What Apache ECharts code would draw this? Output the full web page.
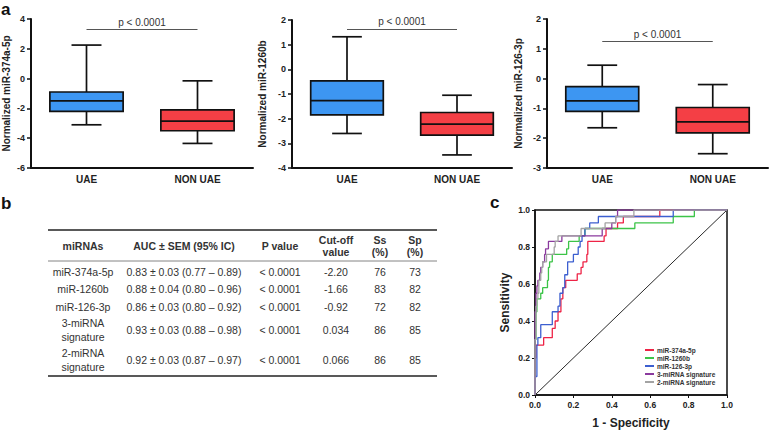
<!DOCTYPE html>
<html>
<head>
<meta charset="utf-8">
<script src="https://cdn.jsdelivr.net/npm/echarts@6/dist/echarts.min.js"></script>
<style>
  html, body { margin: 0; padding: 0; background: #fff; }
  #main { width: 770px; height: 430px; }
</style>
</head>
<body>
<div id="main"></div>
<script>
// ---- 数据 ----
const groups = ['UAE', 'NON UAE'];
// [min, Q1, median, Q3, max]
const box374 = [[-3.1, -2.2, -1.5, -0.9, 2.25], [-4.35, -3.5, -2.85, -2.1, -0.15]];
const box1260 = [[-2.6, -1.85, -1.27, -0.47, 1.32], [-3.47, -2.67, -2.22, -1.75, -1.05]];
const box126 = [[-1.65, -1.1, -0.75, -0.27, 0.45], [-2.52, -1.82, -1.45, -0.97, -0.2]];
const boxNames = ['Normalized miR-374a-5p', 'Normalized miR-1260b', 'Normalized miR-126-3p'];
const yMin = [-6, -4, -3];
const yMax = [4, 2, 2];
const yStep = [2, 1, 1];
const pText = 'p < 0.0001';
const pLevel = [3.3, 1.64, 1.26];

const tableHead = ['miRNAs', 'AUC ± SEM (95% IC)', 'P value', 'Cut-off\nvalue', 'Ss\n(%)', 'Sp\n(%)'];
const tableRows = [
  ['miR-374a-5p', '0.83 ± 0.03 (0.77 – 0.89)', '< 0.0001', '-2.20', '76', '73'],
  ['miR-1260b', '0.88 ± 0.04 (0.80 – 0.96)', '< 0.0001', '-1.66', '83', '82'],
  ['miR-126-3p', '0.86 ± 0.03 (0.80 – 0.92)', '< 0.0001', '-0.92', '72', '82'],
  ['3-miRNA\nsignature', '0.93 ± 0.03 (0.88 – 0.98)', '< 0.0001', '0.034', '86', '85'],
  ['2-miRNA\nsignature', '0.92 ± 0.03 (0.87 – 0.97)', '< 0.0001', '0.066', '86', '85']
];

// ROC: [1 - specificity, sensitivity]，每个点是台阶上升的位置
const rocNames = ['miR-374a-5p', 'miR-1260b', 'miR-126-3p', '3-miRNA signature', '2-miRNA signature'];
const roc374 = [[0, 0], [0, 0.2], [0.005, 0.27], [0.045, 0.31], [0.09, 0.36], [0.105, 0.4], [0.12, 0.45],
  [0.135, 0.52], [0.145, 0.58], [0.16, 0.62], [0.22, 0.655], [0.24, 0.69], [0.25, 0.72], [0.27, 0.76],
  [0.275, 0.83], [0.36, 0.86], [0.37, 0.9], [0.43, 0.93], [0.46, 0.965], [0.65, 1], [1, 1]];
const roc1260 = [[0, 0], [0, 0.3], [0.005, 0.45], [0.01, 0.52], [0.03, 0.55], [0.04, 0.58], [0.065, 0.62],
  [0.07, 0.69], [0.076, 0.72], [0.09, 0.76], [0.165, 0.79], [0.175, 0.83], [0.23, 0.86], [0.26, 0.9],
  [0.52, 0.93], [0.72, 0.965], [0.83, 1], [1, 1]];
const roc126 = [[0, 0], [0, 0.1], [0.01, 0.27], [0.015, 0.31], [0.03, 0.38], [0.09, 0.45], [0.12, 0.48],
  [0.13, 0.55], [0.145, 0.58], [0.155, 0.65], [0.17, 0.72], [0.2, 0.76], [0.225, 0.8], [0.235, 0.83],
  [0.245, 0.86], [0.26, 0.9], [0.285, 0.93], [0.33, 0.965], [0.72, 1], [1, 1]];
const roc3 = [[0, 0], [0, 0.45], [0.005, 0.55], [0.01, 0.59], [0.015, 0.62], [0.025, 0.66], [0.03, 0.69],
  [0.04, 0.72], [0.05, 0.76], [0.055, 0.79], [0.07, 0.83], [0.14, 0.86], [0.35, 0.9], [0.4, 0.93],
  [0.42, 0.965], [0.43, 1], [1, 1]];
const roc2 = [[0, 0], [0, 0.3], [0.005, 0.48], [0.01, 0.52], [0.015, 0.55], [0.02, 0.62], [0.03, 0.66],
  [0.035, 0.69], [0.04, 0.72], [0.06, 0.76], [0.1, 0.8], [0.105, 0.83], [0.12, 0.86], [0.24, 0.9],
  [0.365, 0.93], [0.42, 0.965], [0.515, 1], [1, 1]];
const rocData = [roc374, roc1260, roc126, roc3, roc2];

// ---- 样式 ----
const font = "'Liberation Sans', Arial, sans-serif";
const boxColors = ['#3d96f2', '#f43f45'];
const rocColors = ['#ee2346', '#3cc448', '#3c5fd0', '#8b3a9e', '#a3a3a3'];
const boxGrids = [
  { left: 28, top: 19, width: 225, height: 149 },
  { left: 292, top: 20, width: 220, height: 148 },
  { left: 547, top: 19, width: 221, height: 149 }
];
const nameGaps = [20, 25, 24];

const mychart = echarts.init(document.getElementById('main'), null, { renderer: 'svg' });

// 箱线图（自定义，须短）
function renderBox(params, api) {
  const idx = api.value(0);
  const lo = api.coord([idx, api.value(1)]);
  const q1 = api.coord([idx, api.value(2)]);
  const med = api.coord([idx, api.value(3)]);
  const q3 = api.coord([idx, api.value(4)]);
  const hi = api.coord([idx, api.value(5)]);
  const band = api.size([1, 0])[0];
  const w = band * 0.66, cap = band * 0.27;
  const x = lo[0];
  const st = { stroke: '#111', lineWidth: 1.7 };
  return {
    type: 'group',
    children: [
      { type: 'line', shape: { x1: x, y1: hi[1], x2: x, y2: q3[1] }, style: st },
      { type: 'line', shape: { x1: x, y1: q1[1], x2: x, y2: lo[1] }, style: st },
      { type: 'line', shape: { x1: x - cap / 2, y1: hi[1], x2: x + cap / 2, y2: hi[1] }, style: st },
      { type: 'line', shape: { x1: x - cap / 2, y1: lo[1], x2: x + cap / 2, y2: lo[1] }, style: st },
      { type: 'rect', shape: { x: x - w / 2, y: q3[1], width: w, height: q1[1] - q3[1] },
        style: { fill: boxColors[params.dataIndex], stroke: '#111', lineWidth: 1.7 } },
      { type: 'line', shape: { x1: x - w / 2, y1: med[1], x2: x + w / 2, y2: med[1] }, style: st }
    ]
  };
}

const grids = boxGrids.concat([{ left: 535, top: 210, width: 192, height: 191, show: true, borderColor: '#111', borderWidth: 1.5 }]);
const xAxes = [], yAxes = [], series = [];

[box374, box1260, box126].forEach((boxes, i) => {
  xAxes.push({
    type: 'category', gridIndex: i, data: groups,
    axisLine: { onZero: false, lineStyle: { color: '#111', width: 2 } },
    axisTick: { show: false },
    axisLabel: { color: '#222', fontSize: 10, fontWeight: 'bold', margin: 6 }
  });
  yAxes.push({
    type: 'value', gridIndex: i, min: yMin[i], max: yMax[i], interval: yStep[i],
    name: boxNames[i], nameLocation: 'middle', nameGap: nameGaps[i],
    nameTextStyle: { color: '#222', fontSize: 10, fontWeight: 'bold' },
    axisLine: { show: true, lineStyle: { color: '#111', width: 2 } },
    axisTick: { show: true, length: 4, lineStyle: { width: 1.5 } },
    axisLabel: { color: '#222', fontSize: 9, fontWeight: 'bold', margin: 6 },
    splitLine: { show: false }
  });
  series.push({
    type: 'custom', xAxisIndex: i, yAxisIndex: i,
    renderItem: renderBox,
    encode: { x: 0, y: [1, 2, 3, 4, 5] },
    data: boxes.map((d, k) => [k].concat(d))
  });
  // p 值线
  series.push({
    type: 'line', xAxisIndex: i, yAxisIndex: i, data: [],
    markLine: {
      silent: true, symbol: ['none', 'none'],
      lineStyle: { color: '#555', width: 1, type: 'solid' },
      label: { show: true, position: 'middle', formatter: pText, fontSize: 10, color: '#333', distance: 2 },
      data: [[{ coord: [groups[0], pLevel[i]] }, { coord: [groups[1], pLevel[i]] }]]
    }
  });
});

// ROC
xAxes.push({
  type: 'value', gridIndex: 3, min: 0, max: 1, interval: 0.2,
  name: '1 - Specificity', nameLocation: 'middle', nameGap: 22,
  nameTextStyle: { color: '#222', fontSize: 12, fontWeight: 'bold' },
  axisLine: { onZero: false, lineStyle: { color: '#111', width: 1.5 } },
  axisTick: { length: 3 },
  axisLabel: { color: '#222', fontSize: 8.5, fontWeight: 'bold', margin: 5, formatter: v => v.toFixed(1) },
  splitLine: { show: false }
});
yAxes.push({
  type: 'value', gridIndex: 3, min: 0, max: 1, interval: 0.2,
  name: 'Sensitivity', nameLocation: 'middle', nameGap: 24,
  nameTextStyle: { color: '#222', fontSize: 12, fontWeight: 'bold' },
  axisLine: { show: true, onZero: false, lineStyle: { color: '#111', width: 1.5 } },
  axisTick: { show: true, length: 3 },
  axisLabel: { color: '#222', fontSize: 8.5, fontWeight: 'bold', margin: 5, formatter: v => v.toFixed(1) },
  splitLine: { show: false }
});
series.push({
  type: 'line', xAxisIndex: 3, yAxisIndex: 3, silent: true, symbol: 'none',
  lineStyle: { color: '#111', width: 0.9 }, data: [[0, 0], [1, 1]]
});
rocData.forEach((d, i) => {
  series.push({
    name: rocNames[i], type: 'line', xAxisIndex: 3, yAxisIndex: 3,
    step: 'end', symbol: 'none', color: rocColors[i],
    lineStyle: { width: 1.3 }, data: d
  });
});

// 表格 (b)
const colX = [83, 184, 280, 336, 380, 415];
const rowY = [272, 289, 307, 330, 360];
const graphics = [];
const txt = (x, y, text, size, bold, lh) => ({
  type: 'text', x: x, y: y,
  style: { text: text, fontSize: size, fontWeight: bold ? 'bold' : 'normal', fontFamily: font,
    fill: '#333', align: 'center', verticalAlign: 'middle', lineHeight: lh }
});
tableHead.forEach((h, c) => graphics.push(txt(colX[c], 246, h, 10.5, true, 12)));
tableRows.forEach((row, r) => row.forEach((v, c) => graphics.push(txt(colX[c], rowY[r], v, 10.5, false, 14))));
graphics.push({ type: 'line', shape: { x1: 48, y1: 230, x2: 437, y2: 230 }, style: { stroke: '#222', lineWidth: 1.5 } });
graphics.push({ type: 'line', shape: { x1: 48, y1: 261, x2: 437, y2: 261 }, style: { stroke: '#666', lineWidth: 0.8 } });
graphics.push({ type: 'line', shape: { x1: 48, y1: 376, x2: 437, y2: 376 }, style: { stroke: '#222', lineWidth: 1.5 } });
// 面板字母
[['a', 1, 9], ['b', 1, 203], ['c', 490, 202]].forEach(p => {
  graphics.push({ type: 'text', x: p[1], y: p[2],
    style: { text: p[0], fontSize: 17, fontWeight: 'bold', fontFamily: font, fill: '#111', verticalAlign: 'middle' } });
});

const option = {
  animation: false,
  textStyle: { fontFamily: font },
  grid: grids,
  xAxis: xAxes,
  yAxis: yAxes,
  legend: {
    data: rocNames, left: 645, top: 346, orient: 'vertical', padding: 0,
    icon: 'rect', itemWidth: 9, itemHeight: 2, itemGap: 0,
    textStyle: { fontSize: 6.5, fontWeight: 'bold', color: '#333', lineHeight: 8, padding: [0, 0, 0, -2] }
  },
  series: series,
  graphic: graphics
};
mychart.setOption(option);
</script>
</body>
</html>
